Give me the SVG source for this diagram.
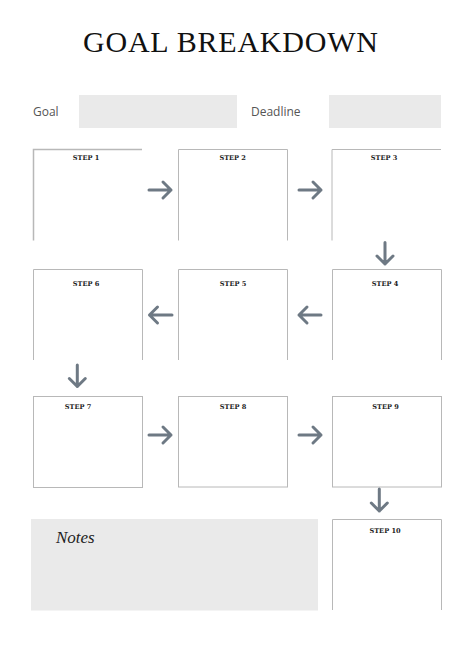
<svg xmlns="http://www.w3.org/2000/svg" width="469" height="666" viewBox="0 0 469 666">
<style>
.box{fill:none;stroke:#b8b8b8;stroke-width:1}
.lbl{font-family:"DejaVu Serif","Liberation Serif",serif;font-weight:bold;font-size:6.6px;fill:#222;text-anchor:middle}
.field{fill:#eaeaea}
.fl{font-family:"Open Sans","Liberation Sans",sans-serif;font-size:12px;fill:#555}
.arr{fill:none;stroke:#6e7984;stroke-width:3;stroke-linecap:round;stroke-linejoin:round}
</style>
<rect width="469" height="666" fill="#ffffff"/>
<g id="title">
<text x="230.5" y="52.3" font-family="Liberation Serif,serif" font-size="30" fill="#111" text-anchor="middle" textLength="295" lengthAdjust="spacing">GOAL BREAKDOWN</text>
</g>
<g id="goal">
<text class="fl" x="33" y="116">Goal</text>
<rect class="field" x="79" y="95" width="158" height="33"/>
</g>
<g id="deadline">
<text class="fl" x="251" y="116">Deadline</text>
<rect class="field" x="329" y="95" width="112" height="33"/>
</g>
<g id="step1">
<path class="box" d="M33.5,240.5 V149.5 H142" style="stroke-width:1.5"/>
<text class="lbl" x="86" y="159.5">STEP 1</text>
</g>
<g id="step2">
<path class="box" d="M178.5,240.5 V149.5 H287.5 V240.5"/>
<text class="lbl" x="232.7" y="159.5">STEP 2</text>
</g>
<g id="step3">
<path class="box" d="M332,240.5 V149.5 H441"/>
<text class="lbl" x="384" y="159.5">STEP 3</text>
</g>
<g id="step4">
<path class="box" d="M332.5,360 V269.5 H441.5 V360"/>
<text class="lbl" x="385" y="285.5">STEP 4</text>
</g>
<g id="step5">
<path class="box" d="M178.5,360 V269.5 H287.5 V360"/>
<text class="lbl" x="233" y="285.5">STEP 5</text>
</g>
<g id="step6">
<path class="box" d="M33.5,360 V269.5 H142.5 V360"/>
<text class="lbl" x="86" y="285.5">STEP 6</text>
</g>
<g id="step7">
<rect class="box" x="33.5" y="396.5" width="109" height="91"/>
<text class="lbl" x="78" y="408.5">STEP 7</text>
</g>
<g id="step8">
<rect class="box" x="178.5" y="396.5" width="109" height="90.5"/>
<text class="lbl" x="233" y="408.5">STEP 8</text>
</g>
<g id="step9">
<rect class="box" x="332.5" y="396.5" width="109" height="90.5"/>
<text class="lbl" x="385.5" y="408.5">STEP 9</text>
</g>
<g id="step10">
<path class="box" d="M332.5,610 V519.5 H441.5 V610"/>
<text class="lbl" x="385" y="532.5">STEP 10</text>
</g>
<g id="notes">
<rect class="field" x="31" y="519" width="287" height="91.5"/>
<text x="56" y="542.5" font-family="Liberation Serif,serif" font-style="italic" font-size="17" fill="#222">Notes</text>
</g>
<g id="connectors">
<path class="arr" d="M149,190 H171 M163,182 L171,190 L163,198"/>
<path class="arr" d="M299,190 H321 M313,182 L321,190 L313,198"/>
<path class="arr" d="M385,242.5 V264 M377,256 L385,264 L393,256"/>
<path class="arr" d="M321,315 H299 M307,307 L299,315 L307,323"/>
<path class="arr" d="M172,315 H149.5 M157.5,307 L149.5,315 L157.5,323"/>
<path class="arr" d="M77.3,365 V386.5 M69.3,378.5 L77.3,386.5 L85.3,378.5"/>
<path class="arr" d="M149,435 H171 M163,427 L171,435 L163,443"/>
<path class="arr" d="M299,435 H321 M313,427 L321,435 L313,443"/>
<path class="arr" d="M379.3,489 V511 M371.3,503 L379.3,511 L387.3,503"/>
</g>
</svg>
